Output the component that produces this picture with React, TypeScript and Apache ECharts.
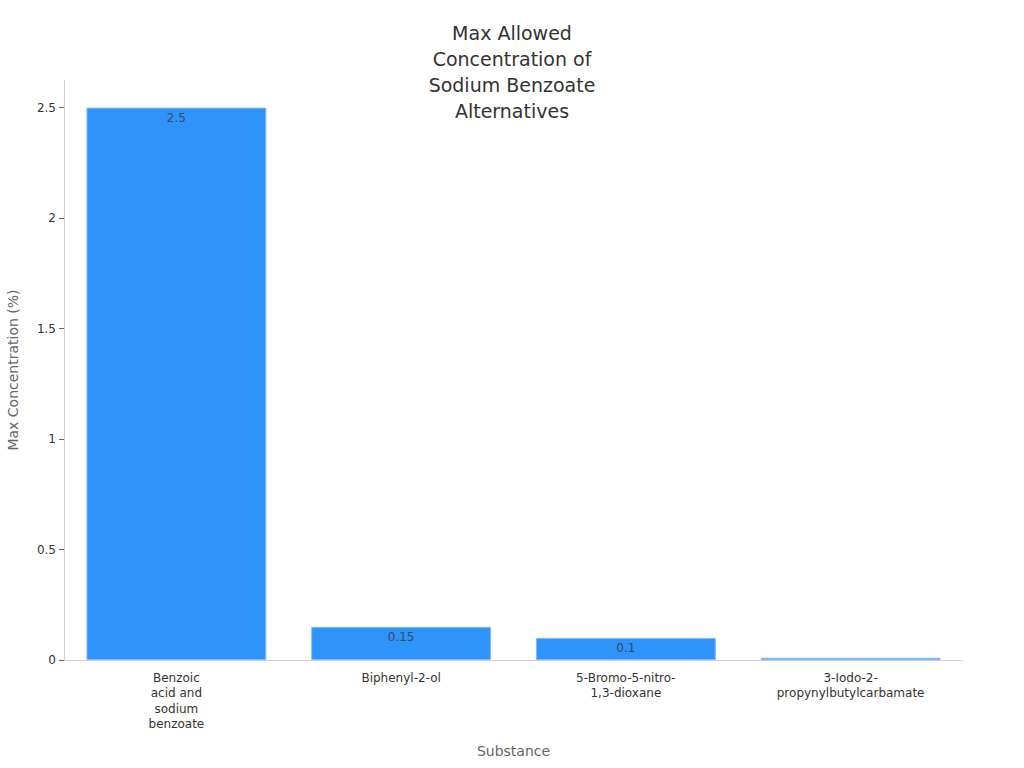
import React, { useEffect, useRef } from "react";
import * as echarts from "echarts";

const substances = [
  "Benzoic\nacid and\nsodium\nbenzoate",
  "Biphenyl-2-ol",
  "5-Bromo-5-nitro-\n1,3-dioxane",
  "3-Iodo-2-\npropynylbutylcarbamate",
];
const maxConcentration = [2.5, 0.15, 0.1, 0.01];
const barLabels = ["2.5", "0.15", "0.1", ""];

const App: React.FC = () => {
  const chartRef = useRef<HTMLDivElement | null>(null);

  useEffect(() => {
    if (!chartRef.current) return;
    const chart = echarts.init(chartRef.current, undefined, { renderer: "svg" });

    const option = {
      animation: false,
      textStyle: { fontFamily: "'DejaVu Sans', sans-serif" },
      title: {
        text: "Max Allowed\nConcentration of\nSodium Benzoate\nAlternatives",
        left: "center",
        top: 15,
        textStyle: {
          fontSize: 19,
          fontWeight: "normal",
          color: "#333333",
          lineHeight: 26,
          align: "center",
          fontFamily: "'DejaVu Sans', sans-serif",
        },
      },
      grid: {
        left: 64,
        right: 61,
        top: 80,
        bottom: 108,
        containLabel: false,
        outerBoundsMode: "none",
      },
      xAxis: {
        type: "category",
        data: substances,
        name: "Substance",
        nameLocation: "middle",
        nameGap: 84,
        nameTextStyle: { fontSize: 14, color: "#666666" },
        axisLine: { lineStyle: { color: "#d0d0d0" } },
        axisTick: { alignWithLabel: true, length: 5, lineStyle: { color: "#666666" } },
        axisLabel: {
          fontSize: 12,
          color: "#333333",
          lineHeight: 15.5,
          margin: 10,
          interval: 0,
        },
      },
      yAxis: {
        type: "value",
        min: 0,
        max: 2.625,
        interval: 0.5,
        name: "Max Concentration (%)",
        nameLocation: "middle",
        nameGap: 44,
        nameTextStyle: { fontSize: 14, color: "#666666" },
        axisLine: { show: true, lineStyle: { color: "#d0d0d0" } },
        axisTick: { show: true, length: 5, lineStyle: { color: "#666666" } },
        splitLine: { show: false },
        axisLabel: {
          fontSize: 12,
          color: "#333333",
          margin: 8,
          showMaxLabel: false,
          formatter: (v: number) => (Math.abs(v / 0.5 - Math.round(v / 0.5)) < 1e-6 ? String(v) : ""),
        },
      },
      series: [
        {
          type: "bar",
          data: maxConcentration,
          barCategoryGap: "20%",
          itemStyle: {
            color: "#2e93fa",
            borderColor: "#7fbaf5",
            borderWidth: 1,
          },
          label: {
            show: true,
            position: "insideTop",
            distance: 4,
            fontSize: 12,
            color: "#3a4a5c",
            formatter: (p: { dataIndex: number }) => barLabels[p.dataIndex],
          },
        },
      ],
    };

    chart.setOption(option);
    const handleResize = () => chart.resize();
    window.addEventListener("resize", handleResize);
    return () => {
      window.removeEventListener("resize", handleResize);
      chart.dispose();
    };
  }, []);

  return (
    <div
      ref={chartRef}
      style={{
        position: "fixed",
        left: 0,
        top: 0,
        width: "1024px",
        height: "768px",
        background: "#ffffff",
      }}
    />
  );
};

export default App;
